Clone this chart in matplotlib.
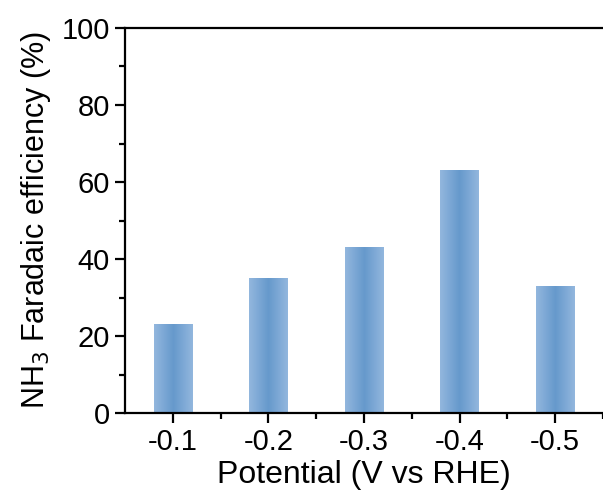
import numpy as np
import matplotlib
matplotlib.use("Agg")
import matplotlib.pyplot as plt
from matplotlib.colors import LinearSegmentedColormap
from matplotlib.ticker import MultipleLocator

# data
potentials = ["-0.1", "-0.2", "-0.3", "-0.4", "-0.5"]
fe_values = [23, 35, 43, 63, 33]

plt.rcParams['font.family'] = ['Liberation Sans', 'DejaVu Sans']
plt.rcParams['font.size'] = 21

fig = plt.figure(figsize=(6.03, 4.99), dpi=100)
ax = fig.add_axes([0.2073, 0.1723, 0.7927, 0.7716])

x = np.arange(len(potentials))
width = 0.4
bars = ax.bar(x, fe_values, width=width, color='none', edgecolor='none', zorder=2)

# horizontal gradient: light at the edges, darker in the middle
cmap = LinearSegmentedColormap.from_list("barblue", ["#93b7de", "#6699cc", "#93b7de"])
grad = np.linspace(0, 1, 256).reshape(1, -1)
for b in bars:
    x0, y0 = b.get_x(), b.get_y()
    im = ax.imshow(grad, cmap=cmap, aspect='auto', zorder=2,
                   extent=[x0, x0 + b.get_width(), y0, y0 + b.get_height()])
    im.set_clip_path(b)

ax.set_xlim(-0.5, 4.47)
ax.set_ylim(0, 100)
ax.set_xticks(x)
ax.set_xticklabels(potentials)
ax.set_xticks(x + 0.5, minor=True)
ax.yaxis.set_major_locator(MultipleLocator(20))
ax.yaxis.set_minor_locator(MultipleLocator(10))

for s in ['left', 'bottom', 'top']:
    ax.spines[s].set_linewidth(1.6)
ax.spines['right'].set_visible(False)
ax.tick_params(which='major', length=7, width=1.6, direction='out', pad=4)
ax.tick_params(which='minor', length=4, width=1.6, direction='out')
ax.tick_params(top=False, right=False, which='both')

ax.set_xlabel("Potential (V vs RHE)", fontsize=23, labelpad=3)
ax.set_ylabel("NH$_3$ Faradaic efficiency (%)", fontsize=22, labelpad=6)

fig.savefig("out.png", dpi=100)
